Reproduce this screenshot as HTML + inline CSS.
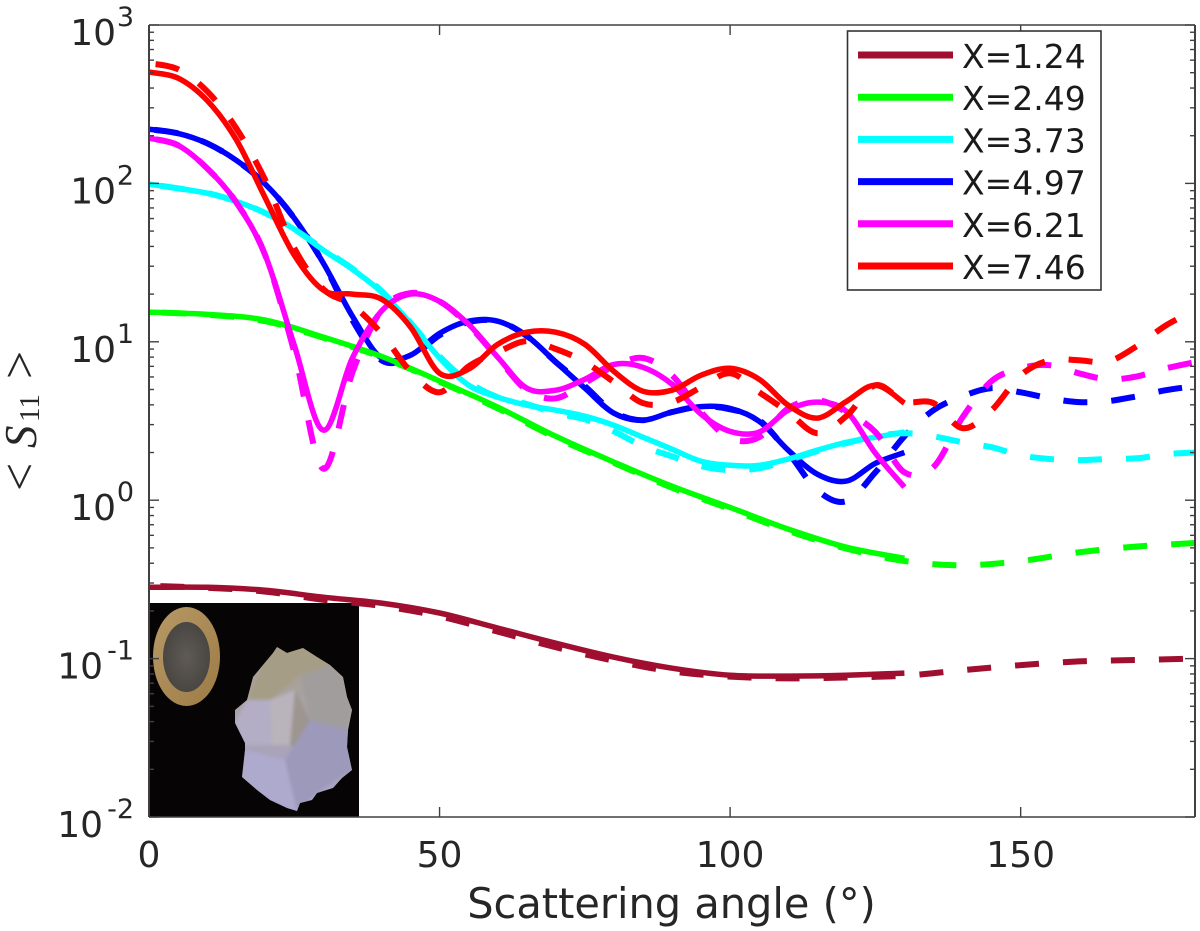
<!DOCTYPE html>
<html lang="en">
<head>
<meta charset="utf-8">
<title>Scattering phase function</title>
<style>
html,body{margin:0;padding:0;background:#fff;}
svg{display:block;width:1200px;height:931px;}
text{font-family:"DejaVu Sans","Liberation Sans",sans-serif;fill:#262626;}
</style>
</head>
<body>
<svg id="chart" xmlns="http://www.w3.org/2000/svg" width="1200" height="931" viewBox="0 0 1200 931">
  <defs>
    <clipPath id="plot-clip"><rect x="149" y="25" width="1046" height="792"/></clipPath>
    <clipPath id="inset-clip"><rect x="149" y="603" width="210" height="214"/></clipPath>
    <clipPath id="crystal-clip"><polygon points="277,647 287,653 303,648 317,657 330,665 343,677 347,697 352,710 348,730 347,747 352,770 342,778 333,788 317,793 312,800 300,803 297,811 287,808 270,800 257,790 242,777 245,750 245,743 235,723 235,710 247,700 253,677 263,665 273,653"/></clipPath>
    <radialGradient id="coin-center" cx="50%" cy="50%" r="60%">
      <stop offset="0" stop-color="#5f5a55"/><stop offset="1" stop-color="#45423f"/>
    </radialGradient>
    <linearGradient id="coin-rim" x1="0" y1="0" x2="1" y2="1">
      <stop offset="0" stop-color="#b89a66"/><stop offset="1" stop-color="#9c7a45"/>
    </linearGradient>
    <linearGradient id="crystal-fill" x1="0" y1="0" x2="0" y2="1">
      <stop offset="0" stop-color="#a89f8a"/><stop offset="0.45" stop-color="#a9a3ad"/><stop offset="1" stop-color="#a9a5ce"/>
    </linearGradient>
    <filter id="soft" x="-5%" y="-5%" width="110%" height="110%"><feGaussianBlur stdDeviation="1.6"/></filter>
  </defs>
  <g id="inset" clip-path="url(#inset-clip)">
    <rect x="149" y="603" width="210" height="214" fill="#060404"/>
    <g>
      <ellipse cx="186.5" cy="656.5" rx="33.5" ry="49.5" fill="url(#coin-rim)"/>
      <ellipse cx="186.5" cy="657" rx="23.5" ry="35" fill="url(#coin-center)"/>
    </g>
    <g>
      <polygon points="277,647 287,653 303,648 317,657 330,665 343,677 347,697 352,710 348,730 347,747 352,770 342,778 333,788 317,793 312,800 300,803 297,811 287,808 270,800 257,790 242,777 245,750 245,743 235,723 235,710 247,700 253,677 263,665 273,653" fill="url(#crystal-fill)"/>
      <g clip-path="url(#crystal-clip)">
        <g filter="url(#soft)">
          <polygon points="263,665 277,647 303,648 330,665 300,675 270,700 247,700" fill="#a69d86"/>
          <polygon points="300,675 330,665 343,677 352,710 348,730 310,720" fill="#a19d9c"/>
          <polygon points="270,700 295,690 290,745 272,745" fill="#b9b3bb"/>
          <polygon points="295,690 310,720 300,750 290,745" fill="#9d9590"/>
          <polygon points="235,723 247,700 270,700 272,745 245,745" fill="#b3aec6"/>
          <polygon points="245,750 285,760 297,811 270,800 242,777" fill="#aeaacd"/>
          <polygon points="285,760 310,720 348,730 352,770 317,793 297,811" fill="#9d99ba"/>
        </g>
      </g>
    </g>
  </g>
  <g id="series" clip-path="url(#plot-clip)"></g>
  <g id="axes"></g>
  <text x="671.5" y="918" text-anchor="middle" font-size="41.5">Scattering angle (°)</text>
  <g transform="translate(36,490) rotate(-90)">
    <text x="-1" y="0" font-size="50" style="font-family:'Liberation Serif',serif">&lt;</text>
    <text x="42" y="0" font-size="45" font-style="italic" style="font-family:'Liberation Serif',serif">S</text>
    <text x="68" y="3" font-size="29" style="font-family:'Liberation Serif',serif">11</text>
    <text x="111" y="0" font-size="50" style="font-family:'Liberation Serif',serif">&gt;</text>
  </g>
  <g id="legend">
    <rect x="847.5" y="31" width="253.5" height="259" fill="#fff" stroke="#333" stroke-width="1.6"/>
  </g>
</svg>
<script>
const anglesSolid = [0,5,10,15,20,25,30,35,40,45,50,55,60,65,70,75,80,85,90,95,100,105,110,115,120,125,130];
const anglesDashed = [0,5,10,15,20,25,30,35,40,45,50,55,60,65,70,75,80,85,90,95,100,105,110,115,120,125,130,135,140,145,150,155,160,165,170,175,180];
const anglesSolidCoarse = [0,10,20,30,40,50,60,70,80,90,100,110,120,130];
const anglesDashedCoarse = [0,10,20,30,40,50,60,70,80,90,100,110,120,130,140,150,160,170,180];

const x124Solid = [0.282,0.282,0.27,0.244,0.224,0.194,0.156,0.125,0.102,0.087,0.0785,0.0775,0.0785,0.081];
const x124Dashed = [0.288,0.28,0.265,0.235,0.215,0.185,0.148,0.118,0.097,0.083,0.077,0.075,0.076,0.078,0.0845,0.091,0.096,0.098,0.1];
const x249Solid = [15.4,14.9,13.7,10.7,8.1,5.65,3.87,2.53,1.74,1.225,0.9,0.657,0.505,0.43];
const x249Dashed = [15.4,14.8,13.5,10.6,8.0,5.6,3.8,2.48,1.72,1.2,0.88,0.64,0.495,0.413,0.388,0.413,0.469,0.51,0.537];
const x373Solid = [99,93,86.7,77,65,51.4,37.9,28.7,20.6,13.1,7.9,5.32,4.47,3.98,3.7,3.39,2.97,2.5,2.1,1.76,1.66,1.66,1.82,2.07,2.32,2.5,2.69];
const x373Dashed = [99,93,87,77,65,51.4,38.5,29,21,13.2,8.1,5.57,4.47,4.05,3.54,3.24,2.72,2.19,1.89,1.64,1.55,1.59,1.79,2.04,2.29,2.53,2.65,2.53,2.32,2.16,1.92,1.82,1.79,1.82,1.84,1.95,2.0];
const x497Solid = [220,207,179,140,99,60.3,31.4,14.5,7.9,8.23,11.3,13.5,13.5,10.9,7.45,5.1,3.54,3.2,3.6,3.9,3.8,3.15,2.07,1.46,1.32,1.71,2.0];
const x497Dashed = [220,207,179,140,99,60.3,31.4,13.7,7.65,8.0,11,13.3,13.5,10.9,7.45,5.25,3.6,3.2,3.6,3.9,3.75,3.2,2.0,1.156,0.985,1.5,2.53,3.7,4.53,5.1,4.8,4.4,4.16,4.22,4.53,4.95,5.25];
const x621Solid = [193,174,124.5,76,35.2,9.5,2.77,7.9,15.6,20,18,12.9,8,5.1,4.95,5.8,7.2,6.9,5.4,3.49,2.72,2.69,3.7,4.16,3.64,1.98,1.21];
const x621Dashed = [193,174,124.5,76,35.2,8.6,1.58,6.4,15.8,20.3,18,12.7,7.9,4.95,4.4,5.5,7.0,7.9,6.15,3.6,2.46,2.5,3.8,4.28,3.6,2.69,1.5,1.62,3.34,5.65,6.8,7.12,6.33,5.8,6.05,6.8,7.45];
const x746Solid = [504,462,334,189,81,35.2,21.2,20,18.6,12.4,6.33,6.72,9.65,11.5,11.5,9.65,6.5,4.88,4.95,6.15,6.8,5.8,3.98,3.3,4.2,5.32,4.1];
const x746Dashed = [574,525,382,223,105,39,21.5,17,11.3,6.5,4.8,7.0,8.6,10.1,9.0,7.45,5.57,4.1,4.16,5.17,6.33,4.8,3.6,2.65,3.39,5.32,4.2,4.1,2.85,3.7,6.15,7.65,7.65,7.5,9.4,12.7,15.8];

const legendLabels = ['X=1.24','X=2.49','X=3.73','X=4.97','X=6.21','X=7.46'];
const seriesColors = ['#a00f2f','#00ff00','#00ffff','#0000ff','#ff00ff','#ff0000'];
const xTicks = [0,50,100,150];
const yDecadeExponents = [3,2,1,0,-1,-2];
const yMinorMultipliers = [2,3,4,5,6,7,8,9];

const NS = 'http://www.w3.org/2000/svg';
const plotLeft = 149, plotRight = 1195, plotTop = 25, plotBottom = 817;
const xMax = 180, logMax = 3, logMin = -2;
const dashOn = 24, dashOff = 24;
function xScale(a){ return plotLeft + (a / xMax) * (plotRight - plotLeft); }
function yScale(v){ return plotTop + (logMax - Math.log10(v)) / (logMax - logMin) * (plotBottom - plotTop); }

function curvePath(angles, values){
  const p = angles.map((a, i) => [xScale(a), yScale(values[i])]);
  let d = 'M' + p[0][0].toFixed(1) + ' ' + p[0][1].toFixed(1);
  for (let i = 0; i < p.length - 1; i++) {
    const p0 = p[Math.max(i - 1, 0)], p1 = p[i], p2 = p[i + 1], p3 = p[Math.min(i + 2, p.length - 1)];
    const c1x = p1[0] + (p2[0] - p0[0]) / 6, c1y = p1[1] + (p2[1] - p0[1]) / 6;
    const c2x = p2[0] - (p3[0] - p1[0]) / 6, c2y = p2[1] - (p3[1] - p1[1]) / 6;
    d += 'C' + c1x.toFixed(1) + ' ' + c1y.toFixed(1) + ' ' + c2x.toFixed(1) + ' ' + c2y.toFixed(1) + ' ' + p2[0].toFixed(1) + ' ' + p2[1].toFixed(1);
  }
  return d;
}

const seriesLayer = document.getElementById('series');
const axesLayer = document.getElementById('axes');
const legendLayer = document.getElementById('legend');

function lengthAtAngle(path, angle){
  const target = xScale(angle);
  let lo = 0, hi = path.getTotalLength();
  for (let i = 0; i < 30; i++) {
    const mid = (lo + hi) / 2;
    if (path.getPointAtLength(mid).x < target) lo = mid; else hi = mid;
  }
  return lo;
}

function drawCurve(angles, values, color, dashAnchorAngle, label){
  const path = document.createElementNS(NS, 'path');
  path.setAttribute('d', curvePath(angles, values));
  path.setAttribute('fill', 'none');
  path.setAttribute('stroke', color);
  path.setAttribute('stroke-width', dashAnchorAngle === null ? '5.5' : '6');
  path.setAttribute('stroke-linejoin', 'round');
  
  
  seriesLayer.appendChild(path);
  if (dashAnchorAngle !== null) {
    const period = dashOn + dashOff;
    const startLength = lengthAtAngle(path, dashAnchorAngle);
    path.setAttribute('stroke-dasharray', dashOn + ' ' + dashOff);
    path.setAttribute('stroke-dashoffset', (period - (startLength % period)).toFixed(2));
  }
}

drawCurve(anglesDashedCoarse, x124Dashed, seriesColors[0], 140.8, 'curve-x124-dashed');
drawCurve(anglesSolidCoarse, x124Solid, seriesColors[0], null, 'curve-x124-solid');
drawCurve(anglesDashed, x497Dashed, seriesColors[3], 149.2, 'curve-x497-dashed');
drawCurve(anglesSolid, x497Solid, seriesColors[3], null, 'curve-x497-solid');
drawCurve(anglesDashedCoarse, x249Dashed, seriesColors[1], 134.8, 'curve-x249-dashed');
drawCurve(anglesSolidCoarse, x249Solid, seriesColors[1], null, 'curve-x249-solid');
drawCurve(anglesDashed, x373Dashed, seriesColors[2], 151.6, 'curve-x373-dashed');
drawCurve(anglesSolid, x373Solid, seriesColors[2], null, 'curve-x373-solid');
drawCurve(anglesDashed, x621Dashed, seriesColors[4], 151.1, 'curve-x621-dashed');
drawCurve(anglesSolid, x621Solid, seriesColors[4], null, 'curve-x621-solid');
drawCurve(anglesDashed, x746Dashed, seriesColors[5], 166.3, 'curve-x746-dashed');
drawCurve(anglesSolid, x746Solid, seriesColors[5], null, 'curve-x746-solid');

function axisLine(x1, y1, x2, y2, width, label){
  const l = document.createElementNS(NS, 'line');
  l.setAttribute('x1', x1);
  l.setAttribute('y1', y1);
  l.setAttribute('x2', x2);
  l.setAttribute('y2', y2);
  l.setAttribute('stroke', '#404040');
  l.setAttribute('stroke-width', width);
  
  
  axesLayer.appendChild(l);
}

axisLine(plotLeft, plotTop, plotRight, plotTop, 1.6, 'top-axis-line');
axisLine(plotLeft, plotBottom, plotRight, plotBottom, 1.6, 'x-axis-line');
axisLine(plotLeft, plotTop, plotLeft, plotBottom, 2, 'y-axis-line');
axisLine(plotRight, plotTop, plotRight, plotBottom, 2, 'right-axis-line');

xTicks.forEach(t => {
  const x = xScale(t);
  axisLine(x, plotBottom, x, plotBottom - 10, 1.4, 'x-tick');
  axisLine(x, plotTop, x, plotTop + 10, 1.4, 'top-tick');
  const label = document.createElementNS(NS, 'text');
  label.setAttribute('x', x);
  label.setAttribute('y', 867);
  label.setAttribute('text-anchor', 'middle');
  label.setAttribute('font-size', '36');
  
  
  label.textContent = String(t);
  document.getElementById('chart').appendChild(label);
});

yDecadeExponents.forEach(e => {
  const y = yScale(Math.pow(10, e));
  axisLine(plotLeft, y, plotLeft + 10, y, 1.4, 'y-tick');
  axisLine(plotRight, y, plotRight - 10, y, 1.4, 'right-tick');
  if (e > logMin) {
    yMinorMultipliers.forEach(m => {
      const ym = yScale(m * Math.pow(10, e - 1));
      axisLine(plotLeft, ym, plotLeft + 5, ym, 1.4, 'y-minor-tick');
      axisLine(plotRight, ym, plotRight - 5, ym, 1.4, 'right-minor-tick');
    });
  }
  const base = document.createElementNS(NS, 'text');
  base.setAttribute('x', e < 0 ? 103 : 116);
  base.setAttribute('y', y + 20);
  base.setAttribute('text-anchor', 'end');
  base.setAttribute('font-size', '36');
  
  
  base.textContent = '10';
  document.getElementById('chart').appendChild(base);
  const exp = document.createElementNS(NS, 'text');
  exp.setAttribute('x', 134);
  exp.setAttribute('y', y + 1);
  exp.setAttribute('text-anchor', 'end');
  exp.setAttribute('font-size', '27');
  
  
  exp.textContent = String(e);
  document.getElementById('chart').appendChild(exp);
});

legendLabels.forEach((name, i) => {
  const rowY = 55 + i * 42.2;
  const line = document.createElementNS(NS, 'line');
  line.setAttribute('x1', 858);
  line.setAttribute('x2', 953);
  line.setAttribute('y1', rowY);
  line.setAttribute('y2', rowY);
  line.setAttribute('stroke', seriesColors[i]);
  line.setAttribute('stroke-width', 7);
  
  
  legendLayer.appendChild(line);
  const label = document.createElementNS(NS, 'text');
  label.setAttribute('x', 962);
  label.setAttribute('y', rowY + 13);
  label.setAttribute('font-size', '33');
  
  
  label.style.fill = '#1a1a1a';
  label.textContent = name;
  legendLayer.appendChild(label);
});
</script>
</body>
</html>
